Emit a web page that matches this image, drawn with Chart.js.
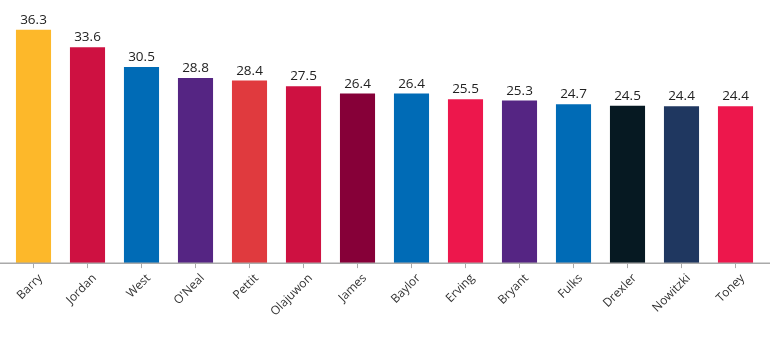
<!DOCTYPE html>
<html>
<head>
<meta charset="utf-8">
<script src="https://cdn.jsdelivr.net/npm/chart.js@4"></script>
<style>
  html, body { margin: 0; padding: 0; background: #fff; }
  #wrap { width: 770px; height: 353px; }
</style>
</head>
<body>
<div id="wrap"><canvas id="ppgChart"></canvas></div>
<script>
const players = ["Barry", "Jordan", "West", "O'Neal", "Pettit", "Olajuwon", "James", "Baylor", "Erving", "Bryant", "Fulks", "Drexler", "Nowitzki", "Toney"];
const points = [36.3, 33.6, 30.5, 28.8, 28.4, 27.5, 26.4, 26.4, 25.5, 25.3, 24.7, 24.5, 24.4, 24.4];
const teamColors = ["#FDB82A", "#CE1141", "#006BB6", "#552583", "#E03A3E", "#CE1141", "#860038", "#006BB6", "#ED174C", "#552583", "#006BB6", "#061922", "#1F3760", "#ED174C"];

// values on top of bars + axis line across the whole canvas
const barLabels = {
    id: 'barLabels',
    afterDatasetsDraw(chart) {
        const c = chart.ctx;
        const meta = chart.getDatasetMeta(0);
        c.save();
        c.font = '13.5px "Open Sans", sans-serif';
        c.fillStyle = '#222';
        c.textAlign = 'center';
        c.textBaseline = 'bottom';
        meta.data.forEach((bar, i) => {
            c.fillText(points[i].toFixed(1), bar.x, bar.y - 3);
        });
        const y = chart.scales.y.getPixelForValue(0);
        c.strokeStyle = '#aaa';
        c.lineWidth = 1.5;
        c.beginPath();
        c.moveTo(0, y);
        c.lineTo(chart.width, y);
        c.stroke();
        c.restore();
    }
};

new Chart(document.getElementById('ppgChart'), {
    type: 'bar',
    data: {
        labels: players,
        datasets: [{
            data: points,
            backgroundColor: teamColors,
            categoryPercentage: 1,
            barPercentage: 0.65
        }]
    },
    options: {
        responsive: true,
        maintainAspectRatio: false,
        animation: false,
        layout: { padding: { left: 6.5, right: 7.5, top: 6, bottom: 31 } },
        plugins: { legend: { display: false }, tooltip: { enabled: false } },
        scales: {
            x: {
                grid: { offset: false, drawOnChartArea: false, tickLength: 5, color: '#aaa' },
                border: { display: true, color: '#aaa' },
                ticks: {
                    minRotation: 45, maxRotation: 45,
                    labelOffset: 7,
                    color: '#333',
                    font: { family: '"Open Sans", sans-serif', size: 12 }
                }
            },
            y: {
                display: false,
                min: 0,
                max: 40
            }
        }
    },
    plugins: [barLabels]
});
</script>
</body>
</html>
